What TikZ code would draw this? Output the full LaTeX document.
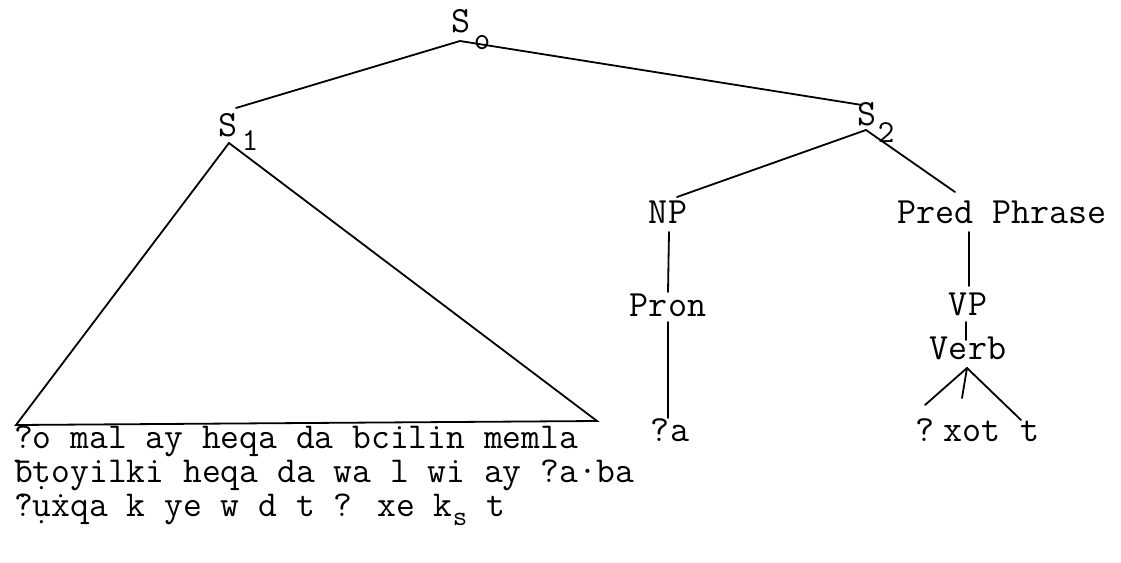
\documentclass[tikz,border=0pt]{standalone}
\begin{document}
\begin{tikzpicture}[x=1pt,y=-1pt,
  lab/.style={font=\fontsize{37}{40}\selectfont\ttfamily, inner sep=0pt, anchor=base},
  sub/.style={font=\fontsize{32}{34}\selectfont\ttfamily, inner sep=0pt, anchor=base},
  txt/.style={font=\fontsize{36.5}{38}\selectfont\ttfamily, inner sep=0pt, anchor=base west},
  edge/.style={line width=1.8pt, line cap=round}]
\useasboundingbox (0,0) rectangle (1121,562);
% labels
\node[lab] (s0) at (461,32) {S};
\node[sub] (s0s) at (482,49) {o};
\node[lab] (s1) at (228,136) {S};
\node[sub] (s1s) at (250,150) {1};
\node[lab] (s2) at (867,125) {S};
\node[sub] (s2s) at (886,142) {2};
\node[lab] (np) at (668,223) {NP};
\node[lab] (pred) at (1002,223) {Pred Phrase};
\node[lab] (pron) at (668,316) {Pron};
\node[lab] (a) at (670,441) {?a};
\node[lab] (vp) at (968,315) {VP};
\node[lab] (verb) at (968,359) {Verb};
\node[lab] (q) at (925,441) {?};
\node[lab] (xot) at (972,441) {xot};
\node[lab] (t) at (1030,441) {t};
% attachment points
\coordinate (s0b) at (460,41);
\coordinate (s1t) at (236,108);
\coordinate (s2t) at (862,105);
\coordinate (s1b) at (229,143);
\coordinate (bl) at (16,425);
\coordinate (br) at (597,421);
\coordinate (s2b) at (866,130);
\coordinate (npt) at (677,197);
\coordinate (predt) at (955,192);
\coordinate (npb) at (669,232);
\coordinate (pront) at (668,292);
\coordinate (pronb) at (668,322);
\coordinate (at) at (668,418);
\coordinate (predb) at (969,232);
\coordinate (vpt) at (969,286);
\coordinate (vpb) at (966,322);
\coordinate (verbt) at (966,340);
\coordinate (verbb) at (967,368);
\coordinate (qt) at (925,405);
\coordinate (xott) at (962,398);
\coordinate (tt) at (1021,420);
% edges
\draw[edge] (s0b) -- (s1t);
\draw[edge] (s0b) -- (s2t);
\draw[edge] (bl) -- (s1b) -- (br) -- cycle;
\draw[edge] (npt) -- (s2b) -- (predt);
\draw[edge] (npb) -- (pront);
\draw[edge] (pronb) -- (at);
\draw[edge] (predb) -- (vpt);
\draw[edge] (vpb) -- (verbt);
\draw[edge] (qt) -- (verbb) -- (tt);
\draw[edge] (verbb) -- (xott);
% text lines
\node[txt] (l1) at (14,448) {?o mal ay heqa da bcilin memla};
\node[txt] (l2) at (14,482) {\=b\d{t}oyilki heqa da wa l wi ay ?a\textperiodcentered ba};
\node[txt] (l3) at (14,516) {\.?\d{u}\.{x}qa k ye w d t ? xe k\raisebox{-9pt}{\fontsize{28}{28}\selectfont s} t};
\end{tikzpicture}
\end{document}
